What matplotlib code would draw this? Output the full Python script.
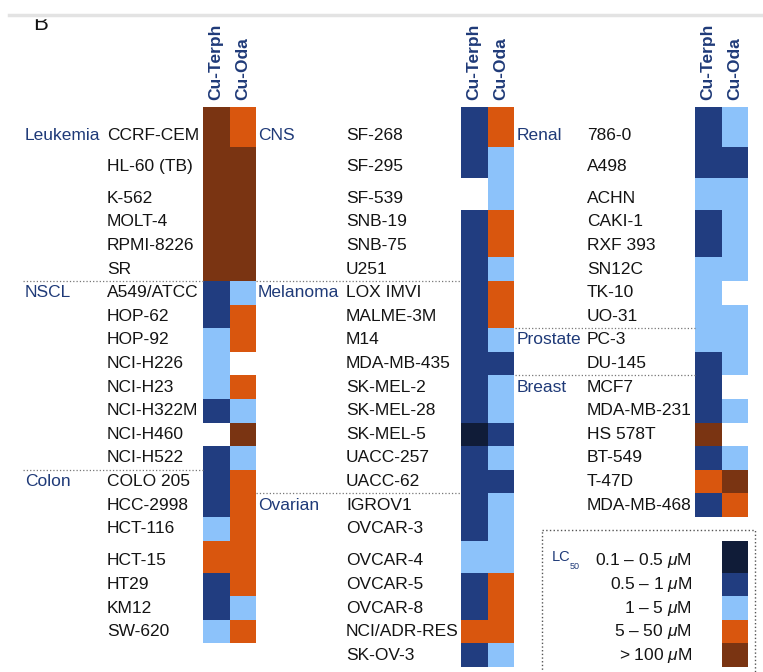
import numpy as np
import matplotlib.pyplot as plt
from matplotlib.colors import ListedColormap, BoundaryNorm
from matplotlib.patches import Rectangle

plt.rcParams['font.family'] = ['Liberation Sans', 'DejaVu Sans']
plt.rcParams['mathtext.fontset'] = 'custom'
plt.rcParams['mathtext.rm'] = 'Liberation Sans'
plt.rcParams['mathtext.it'] = 'Liberation Sans:italic'

nan = np.nan

# LC50 classes: 0 = 0.1-0.5, 1 = 0.5-1, 2 = 1-5, 3 = 5-50, 4 = >100 uM, nan = not tested
compounds = ['Cu-Terph', 'Cu-Oda']
class_labels = [r'0.1 – 0.5 $\mu$M', r'0.5 – 1 $\mu$M', r'1 – 5 $\mu$M',
                r'5 – 50 $\mu$M', r'> 100 $\mu$M']
class_colors = ['#101c38', '#213d80', '#8cc2fa', '#d9560e', '#7a3412']

# panel 1
groups1 = [('Leukemia', 6), ('NSCL', 8), ('Colon', 7)]
cells1 = ['CCRF-CEM', 'HL-60 (TB)', 'K-562', 'MOLT-4', 'RPMI-8226', 'SR',
          'A549/ATCC', 'HOP-62', 'HOP-92', 'NCI-H226', 'NCI-H23', 'NCI-H322M',
          'NCI-H460', 'NCI-H522',
          'COLO 205', 'HCC-2998', 'HCT-116', 'HCT-15', 'HT29', 'KM12', 'SW-620']
terph1 = [4, 4, 4, 4, 4, 4, 1, 1, 2, 2, 2, 1, nan, 1, 1, 1, 2, 3, 1, 1, 2]
oda1 = [3, 4, 4, 4, 4, 4, 2, 3, 3, nan, 3, 2, 4, 2, 3, 3, 3, 3, 3, 2, 3]

# panel 2
groups2 = [('CNS', 6), ('Melanoma', 9), ('Ovarian', 7)]
cells2 = ['SF-268', 'SF-295', 'SF-539', 'SNB-19', 'SNB-75', 'U251',
          'LOX IMVI', 'MALME-3M', 'M14', 'MDA-MB-435', 'SK-MEL-2', 'SK-MEL-28',
          'SK-MEL-5', 'UACC-257', 'UACC-62',
          'IGROV1', 'OVCAR-3', 'OVCAR-4', 'OVCAR-5', 'OVCAR-8', 'NCI/ADR-RES', 'SK-OV-3']
terph2 = [1, 1, nan, 1, 1, 1, 1, 1, 1, 1, 1, 1, 0, 1, 1, 1, 1, 2, 1, 1, 3, 1]
oda2 = [3, 2, 2, 3, 3, 2, 3, 3, 2, 1, 2, 2, 1, 2, 1, 2, 2, 2, 3, 3, 3, 2]

# panel 3
groups3 = [('Renal', 8), ('Prostate', 2), ('Breast', 6)]
cells3 = ['786-0', 'A498', 'ACHN', 'CAKI-1', 'RXF 393', 'SN12C', 'TK-10', 'UO-31',
          'PC-3', 'DU-145',
          'MCF7', 'MDA-MB-231', 'HS 578T', 'BT-549', 'T-47D', 'MDA-MB-468']
terph3 = [1, 1, 2, 1, 1, 2, 2, 2, 2, 1, 1, 1, 4, 1, 3, 1]
oda3 = [2, 1, 2, 2, 2, 2, nan, 2, 2, 2, nan, 2, nan, 2, 4, 3]

# layout (pixels)
W, H = 763, 672
top = 107
unit = 23.6
tall = {0: 1.7, 1: 1.31, 2: 1.36, 17: 1.36}
row_units = [tall.get(i, 1.0) for i in range(22)]
row_edges = top + unit * np.concatenate([[0], np.cumsum(row_units)])
col_w = 26.5
navy = '#1f3a78'
ink = '#141414'

cmap = ListedColormap(class_colors)
cmap.set_bad('white')
norm = BoundaryNorm(np.arange(-0.5, 5.5, 1), cmap.N)

fig = plt.figure(figsize=(W / 100, H / 100), dpi=100)
ax = fig.add_axes([0, 0, 1, 1])
ax.set_xlim(0, W)
ax.set_ylim(H, 0)
ax.axis('off')

panels = [
    (groups1, cells1, terph1, oda1, 25, 107, 203),
    (groups2, cells2, terph2, oda2, 258, 346, 461),
    (groups3, cells3, terph3, oda3, 517, 587, 695),
]


def label_y(i):
    return row_edges[i + 1] - 0.5 * unit


for groups, cells, terph, oda, gx, cx, hx in panels:
    n = len(cells)
    vals = np.ma.masked_invalid(np.array([terph, oda], dtype=float).T)
    xe = hx + col_w * np.arange(3)
    ax.pcolormesh(xe, row_edges[:n + 1], vals, cmap=cmap, norm=norm)
    for j, name in enumerate(compounds):
        ax.text(hx + col_w * (j + 0.5), 100, name, rotation=90, ha='center',
                va='bottom', fontsize=12.5, fontweight='bold', color=navy)
    for i, name in enumerate(cells):
        ax.text(cx, label_y(i), name, ha='left', va='center', fontsize=12.5,
                color=ink)
    start = 0
    for k, (gname, count) in enumerate(groups):
        ax.text(gx, label_y(start), gname, ha='left', va='center',
                fontsize=12.5, color=navy)
        if k > 0:
            ax.plot([gx - 2, hx], [row_edges[start]] * 2, ls=':', lw=0.9,
                    color='#777777')
        start += count

# legend: swatches share the row grid of panel 3, second column
leg_rows = np.arange(17, 22)
lx = 695 + col_w
ax.pcolormesh([lx, lx + col_w], row_edges[17:23],
              np.arange(5, dtype=float).reshape(-1, 1), cmap=cmap, norm=norm)
for k, lab in zip(leg_rows, class_labels):
    ax.text(692, label_y(k), lab, ha='right', va='center', fontsize=12.5,
            color=ink)
ax.text(552, label_y(17) - 4, 'LC', ha='left', va='center', fontsize=10.5,
        color=navy)
ax.text(570, label_y(17) + 6, '50', ha='left', va='center', fontsize=6.5,
        color=navy)
ax.add_patch(Rectangle((542, 530), 213, 160, fill=False, ls=':', lw=1.0,
                       edgecolor='#555555'))

# panel letter, clipped at the top as in the source
ax.text(33, 30, 'B', ha='left', va='baseline', fontsize=16, color=ink)
ax.add_patch(Rectangle((0, 0), W, 18, color='white', zorder=5))
ax.plot([9, W], [15, 15], color='#e3e3e3', lw=2.5, zorder=6)

fig.savefig('out.png', dpi=100, facecolor='white')
